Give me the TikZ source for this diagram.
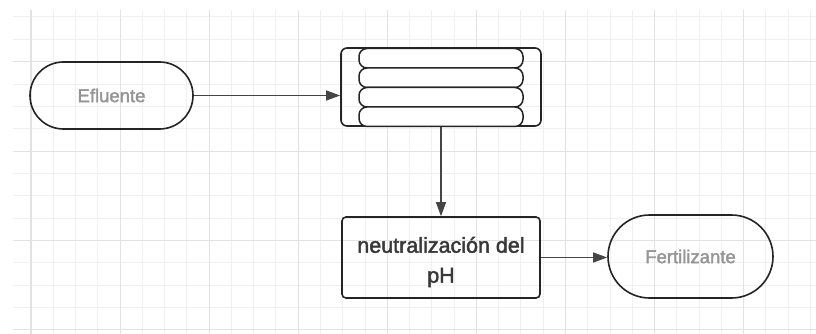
\documentclass[tikz,border=0pt]{standalone}
\usepackage{fontspec}
\setmainfont{Liberation Sans}
\newfontfamily\medfont{Liberation Sans}[FakeBold=2]
\usetikzlibrary{arrows.meta,shapes.misc}
\definecolor{gridminor}{HTML}{F0F0F0}
\definecolor{gridmajor}{HTML}{E2E2E2}
\definecolor{edge}{HTML}{242424}
\definecolor{lbl}{HTML}{959595}
\definecolor{txt}{HTML}{383838}
\definecolor{conn}{HTML}{454545}
\begin{document}
\begin{tikzpicture}[x=1pt,y=-1pt,
  terminal/.style={rounded rectangle, draw=edge, line width=1.6pt, inner sep=0pt,
    text=lbl, font=\medfont\fontsize{18.5}{21}\selectfont},
  stackbox/.style={draw=edge, line width=1.6pt, rounded corners=6pt, inner sep=0pt,
    minimum width=200pt, minimum height=78pt},
  stackbar/.style={draw=edge, line width=1.5pt, rounded corners=8pt, inner sep=0pt,
    minimum width=164pt, minimum height=19.5pt, fill=white},
  processbox/.style={draw=edge, line width=1.6pt, rounded corners=4pt, inner sep=0pt,
    minimum width=198pt, minimum height=81pt},
  boxtext/.style={align=center, text=txt, inner sep=0pt,
    font=\medfont\fontsize{21.5}{30}\selectfont},
  connector/.style={draw=conn, line width=1.1pt, -{Triangle[length=14pt,width=10pt]}},
  gridline/.style={draw=gridminor, line width=1pt},
  gridbold/.style={draw=gridmajor, line width=1.1pt}
]
\useasboundingbox (0,0) rectangle (816,334);
\fill[white] (0,0) rectangle (816,334);
% grid
\foreach \i in {0,...,35}{
  \pgfmathsetmacro\xx{31+22.27*\i}
  \draw[gridline] (\xx,10) -- (\xx,334);
}
\foreach \j in {0,...,14}{
  \pgfmathsetmacro\yy{17+22.35*\j}
  \draw[gridline] (13,\yy) -- (816,\yy);
}
\foreach \i in {0,4,...,32}{
  \pgfmathsetmacro\xx{31+22.27*\i}
  \draw[gridbold] (\xx,10) -- (\xx,334);
}
\foreach \j in {2,6,10,14}{
  \pgfmathsetmacro\yy{17+22.35*\j}
  \draw[gridbold] (13,\yy) -- (816,\yy);
}
% nodes
\node[terminal, minimum width=163pt, minimum height=67pt] (eflu) at (111.5,95.5) {Efluente};
\node[stackbox] (stack) at (441,87) {};
\node[stackbar] (bar1) at (441,58.25) {};
\node[stackbar] (bar2) at (441,77.75) {};
\node[stackbar] (bar3) at (441,97.25) {};
\node[stackbar] (bar4) at (441,116.75) {};
\node[processbox] (neu) at (441,257.5) {};
\node[boxtext] (neutxt) at (441,262) {neutralización del\\pH};
\node[terminal, minimum width=165pt, minimum height=83pt] (fert) at (690.5,256.5) {Fertilizante};
% connectors
\draw[connector] (eflu.east) -- (eflu.east -| stack.west);
\draw[connector] (stack.south) -- (neu.north);
\draw[connector] (neu.east) -- (neu.east -| fert.west);
\end{tikzpicture}
\end{document}
